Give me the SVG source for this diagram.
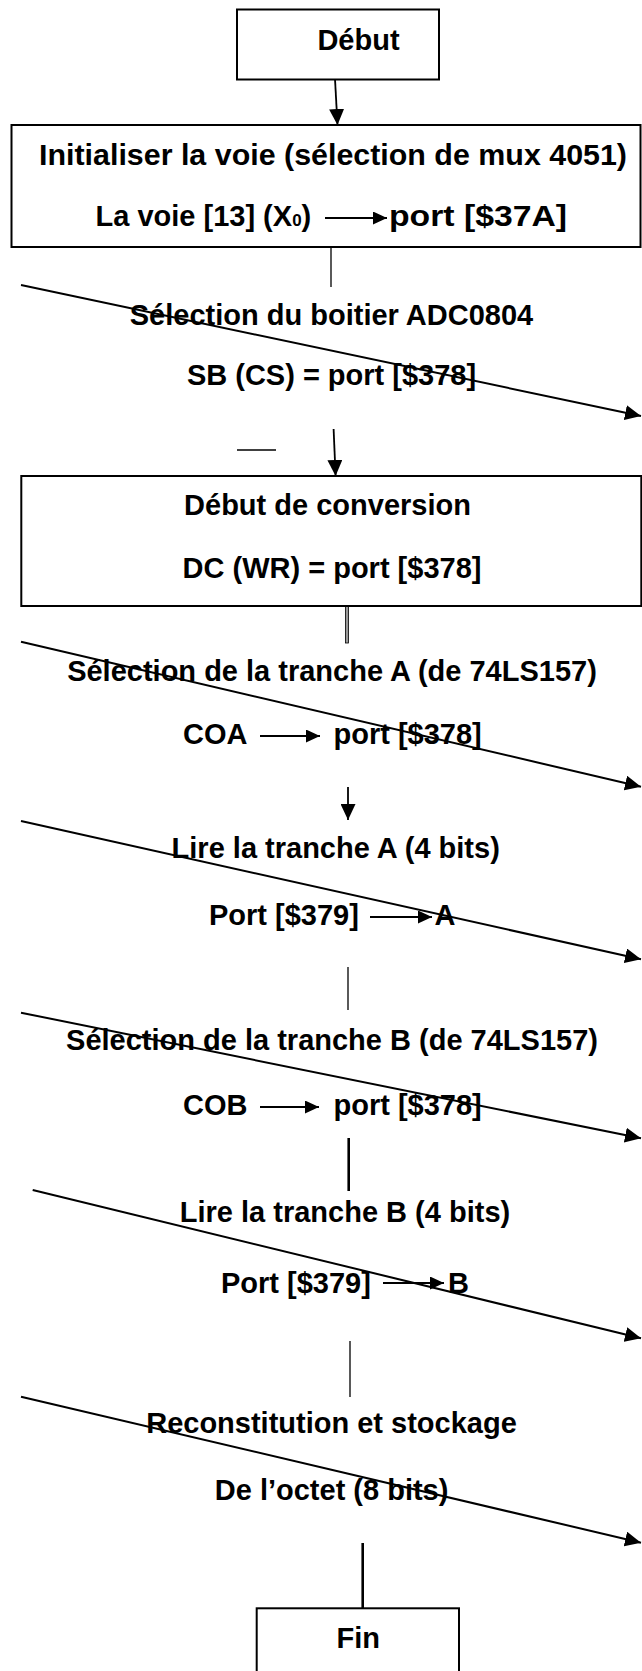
<svg xmlns="http://www.w3.org/2000/svg" width="642" height="1671" viewBox="0 0 642 1671">
<defs>
<style>
.box{fill:#fff;stroke:#000;stroke-width:2}
.t{font-family:"Liberation Sans",Arial,sans-serif;font-weight:bold;font-size:29px;fill:#000}
.m{text-anchor:middle}
.ln{stroke:#000;stroke-width:1.3;fill:none}
.dg{stroke:#000;stroke-width:2;fill:none;marker-end:url(#ah)}
.va{stroke:#000;stroke-width:1.8;fill:none;marker-end:url(#ah)}
.ia{stroke:#000;stroke-width:2;fill:none;marker-end:url(#sa)}
</style>
<marker id="ah" markerUnits="userSpaceOnUse" markerWidth="17" markerHeight="15" refX="16" refY="7.5" orient="auto"><path d="M0,0 L16,7.5 L0,15 z" fill="#000"/></marker>
<marker id="sa" markerUnits="userSpaceOnUse" markerWidth="15" markerHeight="13" refX="14" refY="6.5" orient="auto"><path d="M0,0 L14,6.5 L0,13 z" fill="#000"/></marker>
</defs>
<rect width="642" height="1671" fill="#fff"/>

<g id="connectors">
<line class="va" x1="335" y1="79" x2="337.5" y2="125"/>
<line class="ln" x1="331" y1="247" x2="331" y2="287"/>
<line class="dg" x1="21" y1="285" x2="641" y2="416"/>
<line class="ln" x1="237" y1="450" x2="276" y2="450"/>
<line class="va" x1="333.6" y1="429" x2="335.6" y2="476"/>
<rect x="345.5" y="606" width="3" height="37" fill="#999" stroke="#000" stroke-width="0.8"/>
<line class="dg" x1="21" y1="641.7" x2="641" y2="786.7"/>
<line class="va" x1="348" y1="787" x2="348" y2="820"/>
<line class="dg" x1="21" y1="821" x2="641" y2="959.3"/>
<line class="ln" x1="348" y1="967" x2="348" y2="1010"/>
<line class="dg" x1="21" y1="1012.7" x2="641" y2="1138.3"/>
<line stroke="#000" stroke-width="2.6" x1="348.7" y1="1138" x2="348.7" y2="1191"/>
<line class="dg" x1="32.7" y1="1190" x2="641" y2="1338.3"/>
<line class="ln" x1="350" y1="1341" x2="350" y2="1397"/>
<line class="dg" x1="21" y1="1396.7" x2="641" y2="1542.7"/>
<line stroke="#000" stroke-width="2.6" x1="362.7" y1="1543" x2="362.7" y2="1608"/>
</g>

<g id="n-debut">
<rect class="box" x="237" y="9.5" width="202" height="70"/>
<text class="t m" x="358.5" y="50">Début</text>
</g>

<g id="n-init">
<rect class="box" x="11.5" y="125" width="629" height="122"/>
<text class="t" x="39" y="165" textLength="588" lengthAdjust="spacingAndGlyphs">Initialiser la voie (sélection de mux 4051)</text>
<text class="t" x="95.5" y="226">La voie [13] (X<tspan font-size="17">0</tspan>)</text>
<line class="ia" x1="325" y1="218" x2="387" y2="218"/>
<text class="t" x="389" y="226" textLength="178" lengthAdjust="spacingAndGlyphs">port [$37A]</text>
</g>

<g id="n-selection-adc">
<text class="t m" x="331.5" y="325">Sélection du boitier ADC0804</text>
<text class="t m" x="331.5" y="385">SB (CS) = port [$378]</text>
</g>

<g id="n-conversion">
<rect class="box" x="21.3" y="476" width="620" height="130"/>
<text class="t m" x="327.5" y="515">Début de conversion</text>
<text class="t m" x="332" y="578">DC (WR) = port [$378]</text>
</g>

<g id="n-sel-a">
<text class="t m" x="332" y="681">Sélection de la tranche A (de 74LS157)</text>
<text class="t" x="183" y="744">COA</text>
<line class="ia" x1="260" y1="736" x2="320" y2="736"/>
<text class="t" x="333.5" y="744">port [$378]</text>
</g>

<g id="n-lire-a">
<text class="t m" x="335.7" y="858">Lire la tranche A (4 bits)</text>
<text class="t" x="209" y="925">Port [$379]</text>
<line class="ia" x1="370" y1="917" x2="432" y2="917"/>
<text class="t" x="434.5" y="925">A</text>
</g>

<g id="n-sel-b">
<text class="t m" x="332" y="1050">Sélection de la tranche B (de 74LS157)</text>
<text class="t" x="183" y="1115">COB</text>
<line class="ia" x1="260" y1="1107" x2="319" y2="1107"/>
<text class="t" x="333.5" y="1115">port [$378]</text>
</g>

<g id="n-lire-b">
<text class="t m" x="345" y="1222">Lire la tranche B (4 bits)</text>
<text class="t" x="221" y="1293">Port [$379]</text>
<line class="ia" x1="383" y1="1283" x2="444" y2="1283"/>
<text class="t" x="448" y="1293">B</text>
</g>

<g id="n-reconst">
<text class="t m" x="331.5" y="1433">Reconstitution et stockage</text>
<text class="t m" x="331.6" y="1500">De l’octet (8 bits)</text>
</g>

<g id="n-fin">
<rect class="box" x="256.7" y="1608.3" width="202.3" height="80"/>
<text class="t m" x="358.3" y="1648">Fin</text>
</g>
</svg>
